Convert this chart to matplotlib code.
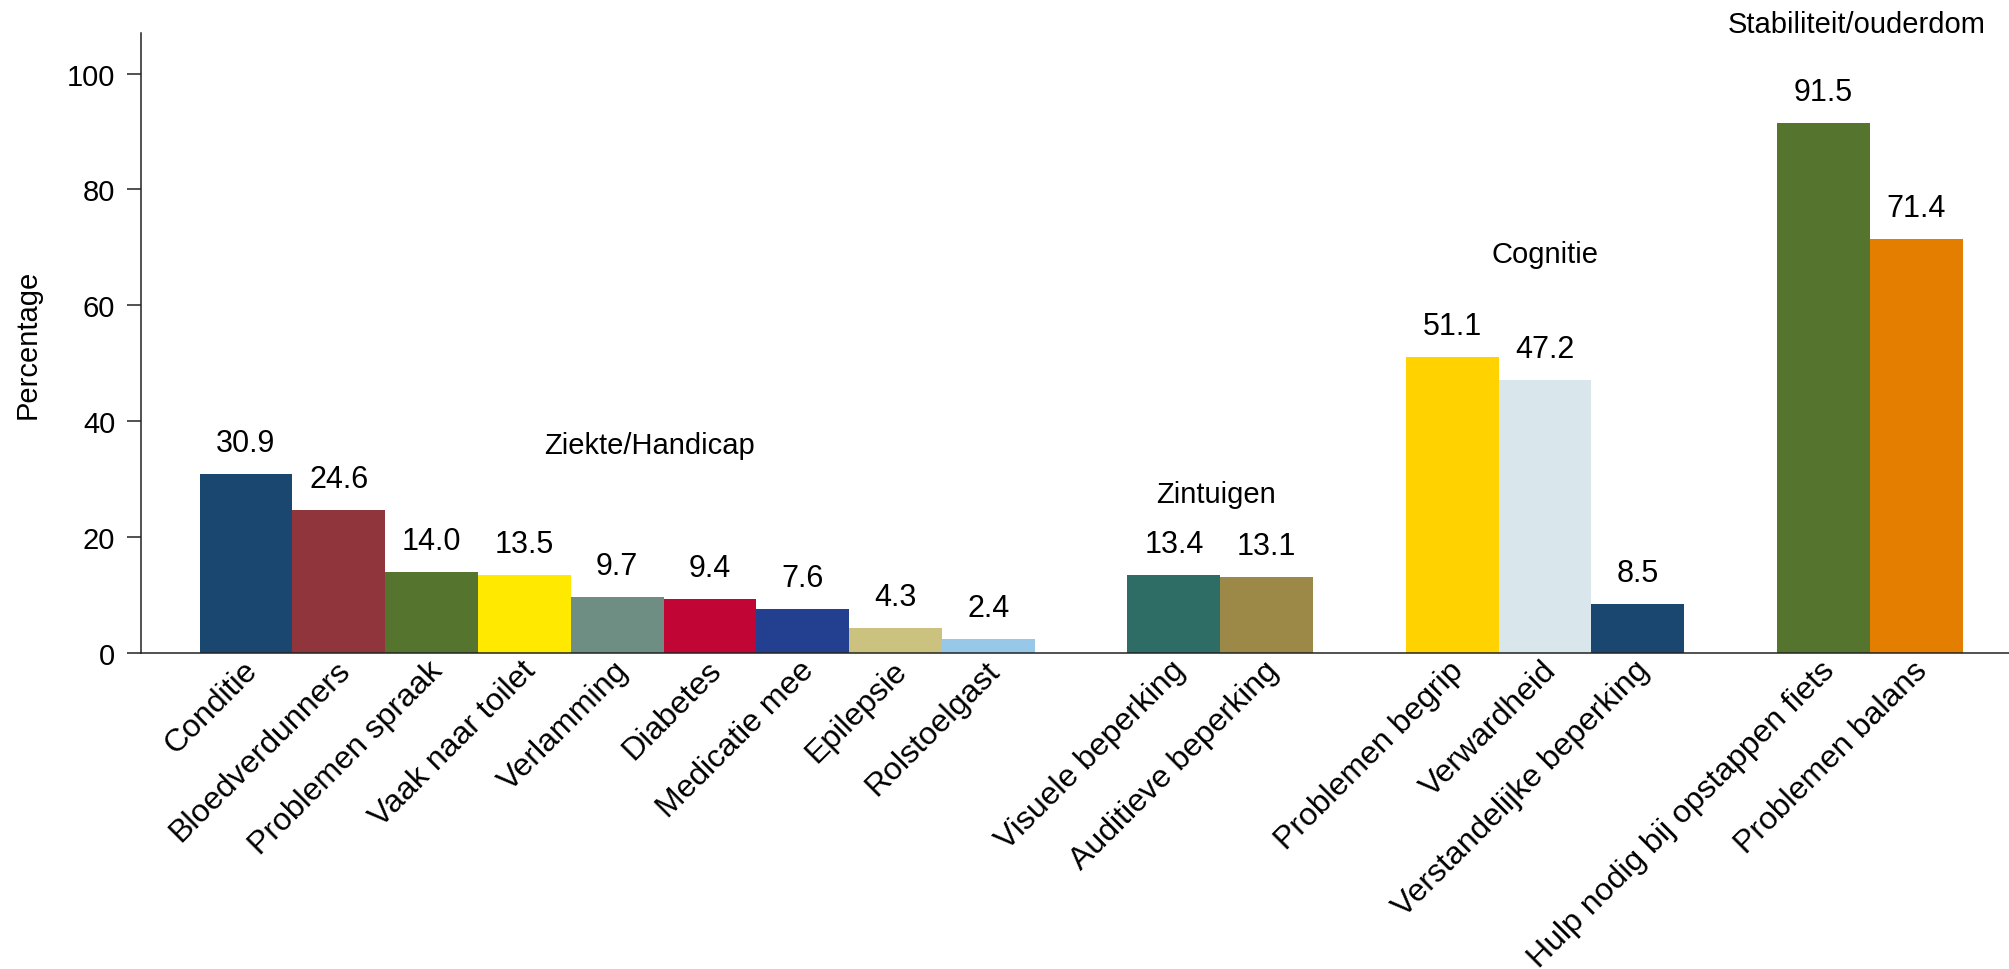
import matplotlib
matplotlib.use("Agg")
import matplotlib.pyplot as plt
import matplotlib.transforms as mtransforms

plt.rcParams['font.family'] = ['Liberation Sans', 'DejaVu Sans']

# ---- data ----
group_names = ["Ziekte/Handicap", "Zintuigen", "Cognitie", "Stabiliteit/ouderdom"]
group_sizes = [9, 2, 3, 2]
categories = ["Conditie", "Bloedverdunners", "Problemen spraak", "Vaak naar toilet",
              "Verlamming", "Diabetes", "Medicatie mee", "Epilepsie", "Rolstoelgast",
              "Visuele beperking", "Auditieve beperking",
              "Problemen begrip", "Verwardheid", "Verstandelijke beperking",
              "Hulp nodig bij opstappen fiets", "Problemen balans"]
values = [30.9, 24.6, 14.0, 13.5, 9.7, 9.4, 7.6, 4.3, 2.4,
          13.4, 13.1,
          51.1, 47.2, 8.5,
          91.5, 71.4]
colors = ["#1a476f", "#90353b", "#55752f", "#ffe900", "#6e8e84", "#c10534",
          "#22408f", "#cac27e", "#98c8e8",
          "#2d6d66", "#9c8847",
          "#ffd200", "#d9e6eb", "#1a476f",
          "#55752f", "#e37e00"]
yticks = [0, 20, 40, 60, 80, 100]

# group label placement (x in bar-slot units, y in data units)
group_label_x = [4.35, 10.45, 14.0, 17.36]
group_label_y = [35.9, 27.5, 68.8, 108.6]

# ---- positions: one empty slot between groups ----
positions = []
start = 0
for n in group_sizes:
    positions.extend(range(start, start + n))
    start += n + 1

W, H = 2009, 970
fig = plt.figure(figsize=(W / 100, H / 100), dpi=100)
ax = fig.add_axes([141 / W, 1 - 654 / H, 1 - 141 / W, (654 - 34) / H])

ax.bar(positions, values, width=1.0, color=colors, edgecolor='none', zorder=2)

for x, v in zip(positions, values):
    ax.annotate(f"{v:.1f}", xy=(x, v), xytext=(0, 22.3), textcoords='offset points',
                ha='center', va='center', fontsize=22, color='black')

for name, gx, gy in zip(group_names, group_label_x, group_label_y):
    ax.text(gx, gy, name, ha='center', va='center', fontsize=21, color='black',
            clip_on=False)

ax.set_xlim(-1.131, 19.0)
ax.set_ylim(0, 107)

ax.set_yticks(yticks)
ax.set_yticklabels([str(t) for t in yticks], fontsize=21)
ax.tick_params(axis='y', length=10, width=1.1, pad=8.6, color='#222222')

ax.set_xticks(positions)
ax.set_xticklabels(categories, rotation=45, ha='right', va='center',
                   rotation_mode='anchor', fontsize=23)
ax.tick_params(axis='x', length=0, pad=9)
shift = mtransforms.ScaledTranslation(7 / 100, 0, fig.dpi_scale_trans)
for lbl in ax.get_xticklabels():
    lbl.set_transform(lbl.get_transform() + shift)

for s in ['top', 'right']:
    ax.spines[s].set_visible(False)
for s in ['left', 'bottom']:
    ax.spines[s].set_linewidth(1.1)
    ax.spines[s].set_color('#222222')

fig.text(28 / W, 1 - 344 / H, "Percentage", rotation=90, ha='center', va='center',
         fontsize=21)

fig.savefig("out.png", dpi=100, facecolor='white')
